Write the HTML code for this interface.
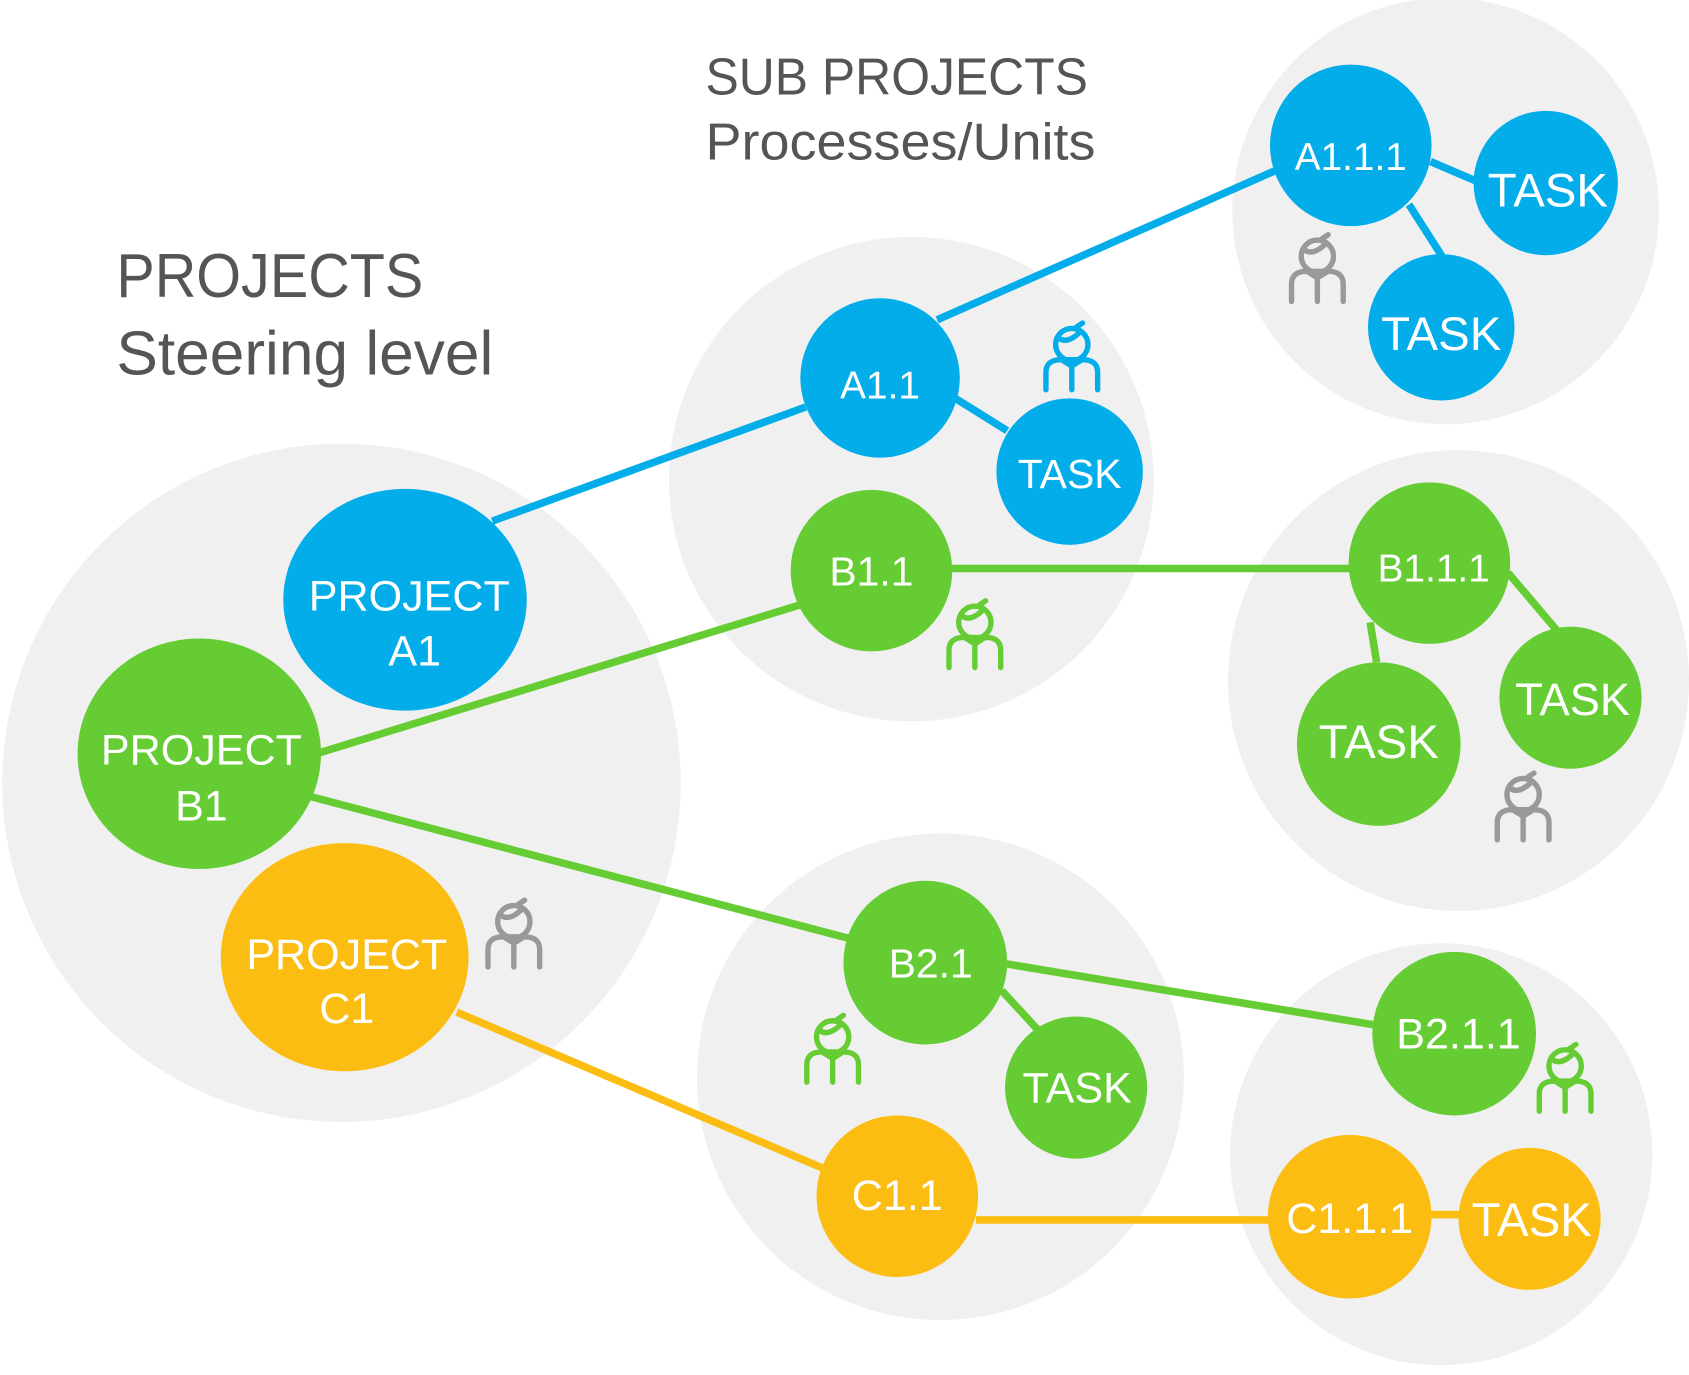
<!DOCTYPE html>
<html><head><meta charset="utf-8"><style>html,body{margin:0;padding:0;background:#fff}svg{display:block}</style></head>
<body>
<svg width="1689" height="1375" viewBox="0 0 1568 1277" preserveAspectRatio="none" xmlns="http://www.w3.org/2000/svg" font-family="Liberation Sans, sans-serif">
<defs>
<g id="p" fill="none" stroke-width="5" stroke-linecap="round">
<circle cx="0" cy="-10" r="15"/>
<path d="M-12,-16 q8,6 20,-6 M4,-26 l6,-4"/>
<path d="M-24,32 v-16 q0,-12 14,-12 h20 q14,0 14,12 v16 M-8,5 l8,5 l8,-5 M0,10 v22"/>
</g>
</defs>
<g fill="#f0f0f1">
<circle cx="317" cy="727" r="315"/>
<circle cx="846" cy="445" r="225"/>
<circle cx="1342" cy="196" r="198"/>
<circle cx="1354" cy="632" r="214"/>
<circle cx="873" cy="1000" r="226"/>
<circle cx="1338" cy="1072" r="196"/>
</g>
<g stroke-width="7" fill="none">
<g stroke="#03adea">
<line x1="457" y1="484" x2="748" y2="378"/><line x1="870" y1="297" x2="1185" y2="158"/>
<line x1="887" y1="370" x2="935" y2="400"/><line x1="1328" y1="150" x2="1370" y2="168"/><line x1="1308" y1="190" x2="1340" y2="240"/>
</g>
<g stroke="#66cc33">
<line x1="297" y1="699" x2="742" y2="562"/><line x1="289" y1="740" x2="790" y2="872"/>
<line x1="883" y1="528" x2="1254" y2="528"/><line x1="1272" y1="578" x2="1278" y2="615"/><line x1="1400" y1="532" x2="1445" y2="585"/>
<line x1="933" y1="895" x2="1277" y2="952"/><line x1="930" y1="920" x2="965" y2="958"/>
</g>
<g stroke="#fcbd13">
<line x1="424" y1="940" x2="764" y2="1085"/><line x1="906" y1="1133" x2="1180" y2="1133"/><line x1="1327" y1="1128" x2="1358" y2="1128"/>
</g>
</g>
<g fill="#03adea">
<ellipse cx="376" cy="557" rx="113" ry="103"/>
<circle cx="817" cy="351" r="74"/><circle cx="993" cy="438" r="68"/>
<circle cx="1254" cy="135" r="75"/><circle cx="1435" cy="170" r="67"/><circle cx="1338" cy="304" r="68"/>
</g>
<g fill="#66cc33">
<ellipse cx="185" cy="700" rx="113" ry="107"/>
<circle cx="809" cy="530" r="75"/>
<circle cx="1327" cy="523" r="75"/><circle cx="1458" cy="648" r="66"/><circle cx="1280" cy="691" r="76"/>
<circle cx="859" cy="894" r="76"/><circle cx="999" cy="1010" r="66"/><circle cx="1350" cy="960" r="76"/>
</g>
<g fill="#fcbd13">
<ellipse cx="320" cy="889" rx="115" ry="106"/>
<circle cx="833" cy="1111" r="75"/><circle cx="1253" cy="1130" r="76"/><circle cx="1420" cy="1132" r="66"/>
</g>
<use href="#p" x="1223" y="248" stroke="#999"/>
<use href="#p" x="1414" y="748" stroke="#999"/>
<use href="#p" x="477" y="866" stroke="#999"/>
<use href="#p" x="995" y="330" stroke="#03adea"/>
<use href="#p" x="905" y="588" stroke="#66cc33"/>
<use href="#p" x="773" y="973" stroke="#66cc33"/>
<use href="#p" x="1453" y="1000" stroke="#66cc33"/>
<g fill="#fff" text-anchor="middle" font-size="40">
<text x="380" y="567">PROJECT</text><text x="385" y="618">A1</text>
<text x="187" y="710">PROJECT</text><text x="187" y="762">B1</text>
<text x="322" y="900">PROJECT</text><text x="322" y="950">C1</text>
<text x="817" y="370" font-size="36">A1.1</text>
<text x="993" y="453" font-size="38">TASK</text>
<text x="809" y="544" font-size="38">B1.1</text>
<text x="1254" y="158" font-size="36">A1.1.1</text>
<text x="1437" y="192" font-size="44">TASK</text>
<text x="1338" y="325" font-size="44">TASK</text>
<text x="1331" y="540" font-size="36">B1.1.1</text>
<text x="1460" y="664" font-size="42">TASK</text>
<text x="1280" y="704" font-size="44">TASK</text>
<text x="864" y="908" font-size="38">B2.1</text>
<text x="1000" y="1024" font-size="40">TASK</text>
<text x="1354" y="974" font-size="40">B2.1.1</text>
<text x="833" y="1124" font-size="40">C1.1</text>
<text x="1253" y="1145" font-size="40">C1.1.1</text>
<text x="1422" y="1148" font-size="44">TASK</text>
</g>
<g fill="#555">
<text x="655" y="88" font-size="48" textLength="355" lengthAdjust="spacingAndGlyphs">SUB PROJECTS</text>
<text x="655" y="148" font-size="48" textLength="362" lengthAdjust="spacingAndGlyphs">Processes/Units</text>
<text x="108" y="276" font-size="58" textLength="285" lengthAdjust="spacingAndGlyphs">PROJECTS</text>
<text x="108" y="348" font-size="58" textLength="350" lengthAdjust="spacingAndGlyphs">Steering level</text>
</g>
</svg>
</body></html>
